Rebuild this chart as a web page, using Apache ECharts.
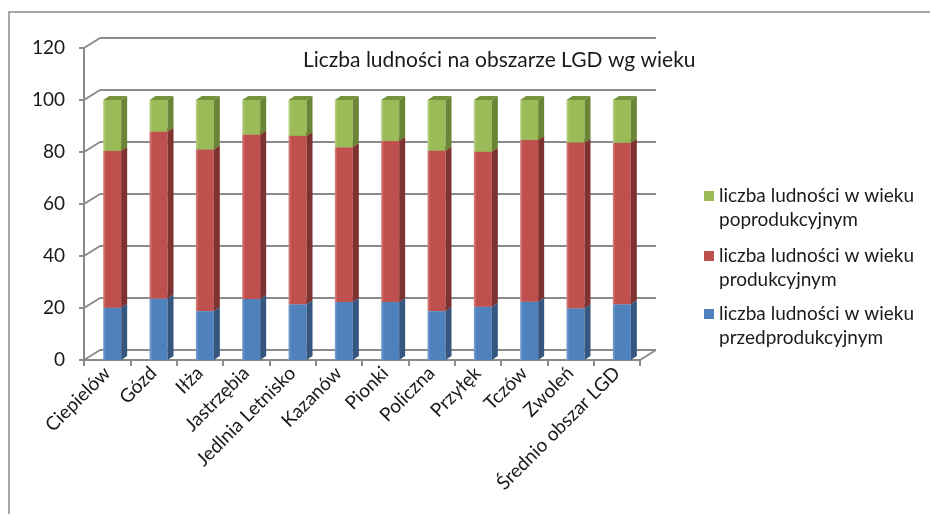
<!DOCTYPE html>
<html>
<head>
<meta charset="utf-8">
<script src="https://cdn.jsdelivr.net/npm/echarts@6/dist/echarts.min.js"></script>
<style>
  html, body { margin: 0; padding: 0; background: #fff; }
  #main { width: 930px; height: 514px; }
</style>
</head>
<body>
<div id="main"></div>
<script>
// data (percent of population)
const categories = ['Ciepielów', 'Gózd', 'Iłża', 'Jastrzębia', 'Jedlnia Letnisko', 'Kazanów',
  'Pionki', 'Policzna', 'Przyłęk', 'Tczów', 'Zwoleń', 'Średnio obszar LGD']
const przedprod = [20.1, 23.7, 18.8, 23.5, 21.4, 22.3, 22.3, 18.8, 20.5, 22.4, 19.9, 21.4]
const prod = [60.3, 64.1, 62.2, 63.2, 64.8, 59.5, 61.9, 61.7, 59.6, 62.2, 63.7, 62.1]
const poprod = [19.6, 12.2, 19.0, 13.3, 13.8, 18.2, 15.8, 19.5, 19.9, 15.4, 16.4, 16.5]
const yTicks = [0, 20, 40, 60, 80, 100, 120]

const names = [
  'liczba ludności w wieku przedprodukcyjnym',
  'liczba ludności w wieku produkcyjnym',
  'liczba ludności w wieku poprodukcyjnym',
]
const titleText = 'Liczba ludności na obszarze LGD wg wieku'

// 3d look
const DX = 16, DY = -10          // back wall offset
const BAR_W = 18, SIDE = 6, TOP = 4
const FONT = 'Lato'
const GRIDC = '#8a8a8a'
const LH = 24                    // legend line height

const faces = [
  { front: '#4F81BD', light: '#7ea3d3', side: '#35577f', top: '#6b93c6' },
  { front: '#C0504D', light: '#d98683', side: '#7f3331', top: '#a0423f' },
  { front: '#9BBB59', light: '#bcd38c', side: '#6b8537', top: '#76923c' },
]

function stackData (vals, bases) {
  return vals.map((v, i) => [i, bases[i], bases[i] + v])
}
const zeros = categories.map(() => 0)
const base2 = przedprod.map((v, i) => v + prod[i])

function barRenderer (f) {
  return function (params, api) {
    let i = api.value(0)
    let p0 = api.coord([i, api.value(1)])
    let p1 = api.coord([i, api.value(2)])
    let L = p0[0] - 4, R = L + BAR_W
    let yb = p0[1], yt = p1[1]
    return {
      type: 'group',
      children: [
        {
          type: 'rect',
          shape: { x: L, y: yt, width: BAR_W, height: yb - yt },
          style: {
            fill: new echarts.graphic.LinearGradient(0, 0, 1, 0, [
              { offset: 0, color: f.light },
              { offset: 0.15, color: f.front },
              { offset: 1, color: f.front },
            ]),
          },
        },
        {
          type: 'polygon',
          shape: { points: [[R, yt], [R + SIDE, yt - TOP], [R + SIDE, yb - TOP], [R, yb]] },
          style: { fill: f.side },
        },
        {
          type: 'polygon',
          shape: { points: [[L, yt], [L + SIDE, yt - TOP], [R + SIDE, yt - TOP], [R, yt]] },
          style: { fill: f.top },
        },
      ],
    }
  }
}

function frameRenderer (params, api) {
  let cs = params.coordSys
  let y = api.coord([0, api.value(1)])[1]
  let kids = [{
    type: 'line',
    shape: { x1: cs.x, y1: y, x2: cs.x + DX, y2: y + DY },
    style: { stroke: GRIDC, lineWidth: 2 },
  }]
  if (api.value(1) === 0) {
    kids.push({
      type: 'line',
      shape: { x1: cs.x + cs.width, y1: y, x2: cs.x + cs.width + DX, y2: y + DY },
      style: { stroke: GRIDC, lineWidth: 2 },
    })
  }
  return { type: 'group', children: kids }
}

// square sits at the top of a taller icon box so it lines up with the first text line
function legendFor (idx, iconCenter) {
  return {
    data: [names[idx]],
    left: 704,
    top: iconCenter - (LH / 2),
    padding: 0,
    orient: 'vertical',
    icon: 'path://M0,0h10v10h-10z M0,' + (10 + LH) + 'h0.01v0.01h-0.01z',
    itemWidth: 10,
    itemHeight: 10 + LH,
    itemGap: 0,
    selectedMode: false,
    formatter: function (name) {
      return name.replace(' w wieku ', ' w wieku\n')
    },
    textStyle: {
      fontFamily: FONT,
      fontSize: 19,
      color: '#1a1a1a',
      lineHeight: LH,
    },
  }
}

let option = {
  backgroundColor: '#ffffff',
  animation: false,
  title: {
    text: titleText,
    left: 303,
    top: 50,
    padding: 0,
    textStyle: { fontFamily: FONT, fontSize: 21, fontWeight: 'normal', color: '#1a1a1a' },
  },
  legend: [legendFor(2, 196), legendFor(1, 256), legendFor(0, 314)],
  graphic: [{
    type: 'rect',
    shape: { x: 9, y: 12, width: 1000, height: 600 },
    style: { fill: 'none', stroke: GRIDC, lineWidth: 1.5 },
    silent: true,
  }],
  grid: [
    { left: 84, top: 48, width: 556, height: 312 },
    { left: 84 + DX, top: 48 + DY, width: 556, height: 312 },
  ],
  xAxis: [
    {
      type: 'category',
      gridIndex: 0,
      data: categories,
      boundaryGap: true,
      axisLine: { lineStyle: { color: GRIDC, width: 2 } },
      axisTick: { show: true, length: 6, lineStyle: { color: GRIDC, width: 2 } },
      axisLabel: {
        interval: 0,
        rotate: 45,
        margin: 10,
        fontFamily: FONT,
        fontSize: 19,
        color: '#1a1a1a',
      },
    },
    {
      type: 'category',
      gridIndex: 1,
      data: categories,
      show: false,
    },
  ],
  yAxis: [
    {
      type: 'value',
      gridIndex: 0,
      min: 0,
      max: 120,
      interval: 20,
      axisLine: { show: true, lineStyle: { color: GRIDC, width: 2 } },
      axisTick: { show: true, length: 5, lineStyle: { color: GRIDC, width: 2 } },
      splitLine: { show: false },
      axisLabel: { margin: 19, fontFamily: FONT, fontSize: 19, color: '#1a1a1a' },
    },
    {
      type: 'value',
      gridIndex: 1,
      min: 0,
      max: 120,
      interval: 20,
      axisLine: { show: false },
      axisTick: { show: false },
      axisLabel: { show: false },
      splitLine: { show: true, lineStyle: { color: GRIDC, width: 2 } },
    },
  ],
  series: [
    {
      name: 'frame',
      type: 'custom',
      xAxisIndex: 0,
      yAxisIndex: 0,
      silent: true,
      renderItem: frameRenderer,
      encode: { x: 0, y: 1 },
      data: yTicks.map(v => [0, v]),
      z: 1,
    },
    {
      name: names[0],
      type: 'custom',
      xAxisIndex: 0,
      yAxisIndex: 0,
      itemStyle: { color: faces[0].front },
      renderItem: barRenderer(faces[0]),
      encode: { x: 0, y: [1, 2] },
      data: stackData(przedprod, zeros),
      z: 3,
    },
    {
      name: names[1],
      type: 'custom',
      xAxisIndex: 0,
      yAxisIndex: 0,
      itemStyle: { color: faces[1].front },
      renderItem: barRenderer(faces[1]),
      encode: { x: 0, y: [1, 2] },
      data: stackData(prod, przedprod),
      z: 3,
    },
    {
      name: names[2],
      type: 'custom',
      xAxisIndex: 0,
      yAxisIndex: 0,
      itemStyle: { color: faces[2].front },
      renderItem: barRenderer(faces[2]),
      encode: { x: 0, y: [1, 2] },
      data: stackData(poprod, base2),
      z: 3,
    },
  ],
}

let myChart = echarts.init(document.getElementById('main'))
myChart.setOption(option)
</script>
</body>
</html>
